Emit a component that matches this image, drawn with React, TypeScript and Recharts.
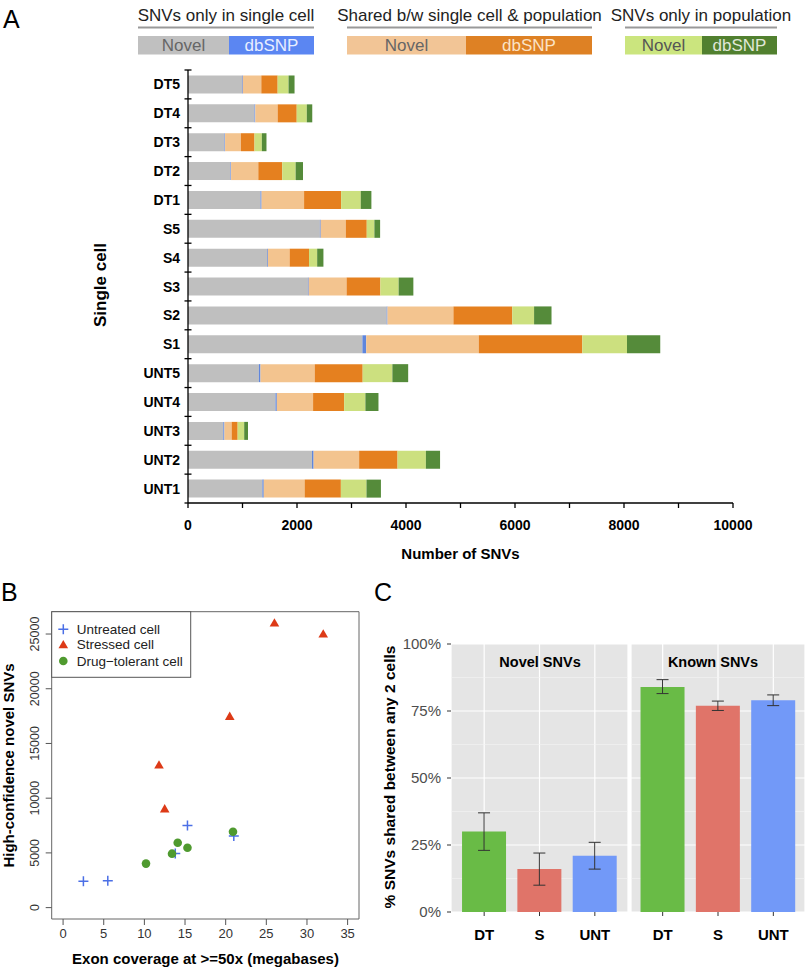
import React from "react";
import {
  BarChart,
  Bar,
  Cell,
  XAxis,
  YAxis,
  CartesianGrid,
  ReferenceArea,
  ErrorBar,
  ScatterChart,
  Scatter,
} from "recharts";

const FONT = '"Liberation Sans", Arial, Helvetica, sans-serif';

// ---------- Panel A: SNV counts per single cell ----------
const CELLS = ["DT5", "DT4", "DT3", "DT2", "DT1", "S5", "S4", "S3", "S2", "S1", "UNT5", "UNT4", "UNT3", "UNT2", "UNT1"];
const SC_NOVEL = [990, 1220, 670, 780, 1330, 2420, 1450, 2200, 3645, 3200, 1300, 1605, 648, 2275, 1365];
const SC_DBSNP = [15, 15, 10, 10, 20, 15, 15, 15, 15, 70, 30, 25, 20, 30, 25];
const SH_NOVEL = [340, 410, 290, 500, 780, 460, 400, 695, 1210, 2065, 995, 665, 133, 835, 750];
const SH_DBSNP = [300, 350, 250, 440, 680, 385, 355, 620, 1080, 1900, 880, 570, 110, 705, 665];
const POP_NOVEL = [200, 185, 135, 245, 360, 140, 150, 335, 400, 820, 545, 390, 120, 520, 470];
const POP_DBSNP = [110, 100, 85, 135, 195, 105, 115, 270, 320, 610, 290, 240, 70, 260, 265];
const SNV_TICKS = [0, 1000, 2000, 3000, 4000, 5000, 6000, 7000, 8000, 9000, 10000];

const SEGMENTS = [
  { key: "scNovel", color: "#BFBFBF" },
  { key: "scDbsnp", color: "#5F86DC" },
  { key: "shNovel", color: "#F3C48F" },
  { key: "shDbsnp", color: "#E5801F" },
  { key: "popNovel", color: "#CCE07F" },
  { key: "popDbsnp", color: "#558B3A" },
];

const LEGEND_TITLES = ["SNVs only in single cell", "Shared b/w single cell & population", "SNVs only in population"];
const LEGEND_PARTS = ["Novel", "dbSNP"];
const LEGEND_COLORS = [
  ["#C0C0C0", "#5B86F2"],
  ["#F2C596", "#DE8124"],
  ["#CBE57E", "#51802F"],
];
const LEGEND_TEXT_COLORS = [
  ["#666", "#E8EEFF"],
  ["#666", "#FBE3C6"],
  ["#555", "#E0E8D8"],
];

// ---------- Panel B: novel SNVs vs exon coverage ----------
const UNT_X = [2.5, 5.5, 13.8, 15.3, 21.0];
const UNT_Y = [2400, 2450, 4950, 7500, 6550];
const STR_X = [11.8, 12.5, 20.5, 26.0, 32.0];
const STR_Y = [13050, 9050, 17500, 26030, 25030];
const DT_X = [10.2, 13.4, 14.1, 15.3, 20.9];
const DT_Y = [4020, 4930, 5930, 5470, 6930];
const COV_TICKS = [0, 5, 10, 15, 20, 25, 30, 35];
const NSNV_TICKS = [0, 5000, 10000, 15000, 20000, 25000];
const B_NAMES = ["Untreated cell", "Stressed cell", "Drug\u2212tolerant cell"];
const BLUE = "#4B6FE6";
const RED = "#DD3A17";
const GREEN = "#4F9A2F";

// ---------- Panel C: % SNVs shared ----------
const GROUPS = ["DT", "S", "UNT"];
const GROUP_COLORS = ["#69BB46", "#E07469", "#7299F8"];
const NOVEL_MEAN = [0.3, 0.16, 0.21];
const NOVEL_LO = [0.23, 0.1, 0.16];
const NOVEL_HI = [0.37, 0.22, 0.26];
const KNOWN_MEAN = [0.84, 0.77, 0.79];
const KNOWN_LO = [0.815, 0.752, 0.77];
const KNOWN_HI = [0.867, 0.787, 0.81];
const PCT_TICKS = [0, 0.25, 0.5, 0.75, 1];
const PCT_MINOR = [0.125, 0.375, 0.625, 0.875];
const FACETS = ["Novel SNVs", "Known SNVs"];

const barData = CELLS.map((cell, i) => ({
  cell,
  scNovel: SC_NOVEL[i],
  scDbsnp: SC_DBSNP[i],
  shNovel: SH_NOVEL[i],
  shDbsnp: SH_DBSNP[i],
  popNovel: POP_NOVEL[i],
  popDbsnp: POP_DBSNP[i],
}));

const toPoints = (xs: number[], ys: number[]) => xs.map((x, i) => ({ x, y: ys[i] }));

const shareData = (mean: number[], lo: number[], hi: number[]) =>
  GROUPS.map((group, i) => ({ group, mean: mean[i], err: [mean[i] - lo[i], hi[i] - mean[i]] }));

const PlusMark = (p: any) => (
  <path d={`M${p.cx - 5},${p.cy}h10M${p.cx},${p.cy - 5}v10`} stroke={BLUE} strokeWidth={1.5} fill="none" />
);
const TriMark = (p: any) => (
  <polygon points={`${p.cx},${p.cy - 4.5} ${p.cx + 4.8},${p.cy + 3.8} ${p.cx - 4.8},${p.cy + 3.8}`} fill={RED} />
);
const DotMark = (p: any) => <circle cx={p.cx} cy={p.cy} r={4.3} fill={GREEN} />;

const RotTick = (p: any) => (
  <text
    x={p.x}
    y={p.y}
    transform={`rotate(-90 ${p.x} ${p.y})`}
    textAnchor="middle"
    fontSize={12.5}
    fill="#333"
  >
    {p.payload.value}
  </text>
);

// panel A plot geometry (chart height minus margins and x-axis height)
const A_MARGIN = { top: 70, right: 74, left: 128, bottom: 47 };
const A_HEIGHT = 580;
const A_XAXIS_H = 30;
const A_TICK_MARGIN = 8;
const A_BAND = (A_HEIGHT - A_MARGIN.top - A_MARGIN.bottom - A_XAXIS_H) / CELLS.length;

// category label plus short ticks crossing the axis at row boundaries
const CellTick = (p: any) => {
  const ax = p.x + A_TICK_MARGIN;
  const top = p.y - A_BAND / 2;
  const last = p.payload.index === CELLS.length - 1;
  return (
    <g>
      <text x={p.x} y={p.y} dy="0.36em" textAnchor="end" fontSize={14} fontWeight="bold" fill="#000">
        {p.payload.value}
      </text>
      <line x1={ax - 3.5} x2={ax + 3.5} y1={top} y2={top} stroke="#000" strokeWidth={1.3} />
      {last && <line x1={ax - 3.5} x2={ax} y1={top + A_BAND} y2={top + A_BAND} stroke="#000" strokeWidth={1.3} />}
    </g>
  );
};

function SharePanel({ data, width, left, showY, pad }: any) {
  return (
    <div style={{ position: "absolute", left, top: 630 }}>
      <BarChart
        width={width}
        height={330}
        data={data}
        margin={{ top: 14, right: 0, left: showY ? 21 : 0, bottom: 18 }}
        barCategoryGap="10%"
      >
        <CartesianGrid fill="#E5E5E5" stroke="#FFFFFF" strokeWidth={1.2} />
        <CartesianGrid vertical={false} horizontalValues={PCT_MINOR} stroke="#F3F3F3" strokeWidth={0.6} />
        <XAxis
          dataKey="group"
          padding={{ left: pad, right: pad }}
          axisLine={false}
          tickSize={4}
          tickMargin={13}
          tickLine={{ stroke: "#333" }}
          tick={{ fontSize: 15, fontWeight: "bold", fill: "#000" }}
          height={30}
        />
        <YAxis
          domain={[0, 1]}
          ticks={PCT_TICKS}
          hide={!showY}
          width={60}
          axisLine={false}
          tickSize={4}
          tickMargin={6}
          tickLine={{ stroke: "#333" }}
          tickFormatter={(v: number) => `${Math.round(v * 100)}%`}
          tick={{ fontSize: 15, fill: "#4D4D4D" }}
        />
        <Bar dataKey="mean" isAnimationActive={false}>
          {data.map((d: any, i: number) => (
            <Cell key={d.group} fill={GROUP_COLORS[i]} />
          ))}
          <ErrorBar dataKey="err" width={6} stroke="#333" strokeWidth={1} />
        </Bar>
      </BarChart>
    </div>
  );
}

export default function App() {
  const legendX = [
    [138, 229, 314],
    [347, 466, 592],
    [625, 702, 777],
  ];
  const bLegendY = [629.3, 644.5, 661];
  const bMarks = [
    <path key="p" d="M58.3,629.3h10M63.3,624.3v10" stroke={BLUE} strokeWidth={1.5} />,
    <polygon key="t" points="63.3,640 68.1,648.3 58.5,648.3" fill={RED} />,
    <circle key="c" cx={63.3} cy={661} r={4.3} fill={GREEN} />,
  ];

  return (
    <div style={{ position: "absolute", left: 0, top: 0, width: 807, height: 972, fontFamily: FONT, background: "#fff" }}>
      {/* Panel A */}
      <div style={{ position: "absolute", left: 0, top: 0 }}>
        <BarChart
          width={807}
          height={A_HEIGHT}
          data={barData}
          layout="vertical"
          margin={A_MARGIN}
          barCategoryGap="19%"
        >
          <XAxis
            type="number"
            domain={[0, 10000]}
            ticks={SNV_TICKS}
            tickFormatter={(v: number) => (v % 2000 === 0 ? String(v) : "")}
            axisLine={{ stroke: "#000", strokeWidth: 1.3 }}
            tickLine={{ stroke: "#000", strokeWidth: 1.3 }}
            tickSize={5}
            tickMargin={12}
            tick={{ fontSize: 14, fontWeight: "bold", fill: "#000" }}
            height={A_XAXIS_H}
          />
          <YAxis
            type="category"
            dataKey="cell"
            width={60}
            axisLine={{ stroke: "#000", strokeWidth: 1.3 }}
            tickLine={false}
            tickSize={0}
            tickMargin={A_TICK_MARGIN}
            tick={(p: any) => <CellTick {...p} />}
          />
          {SEGMENTS.map((s) => (
            <Bar key={s.key} dataKey={s.key} stackId="a" fill={s.color} isAnimationActive={false} />
          ))}
        </BarChart>
      </div>

      {/* Panel B */}
      <div style={{ position: "absolute", left: 0, top: 570 }}>
        <ScatterChart width={380} height={402} margin={{ top: 41.7, right: 21, bottom: 23, left: 21.7 }}>
          <XAxis
            type="number"
            dataKey="x"
            domain={[-1.4, 36.4]}
            ticks={COV_TICKS}
            axisLine={false}
            tickLine={{ stroke: "#555" }}
            tickSize={6}
            tickMargin={4}
            tick={{ fontSize: 13, fill: "#333" }}
            height={30}
          />
          <YAxis
            type="number"
            dataKey="y"
            domain={[-1040, 27040]}
            ticks={NSNV_TICKS}
            width={30}
            axisLine={false}
            tickLine={{ stroke: "#555" }}
            tickSize={6}
            tickMargin={7}
            tick={(p: any) => <RotTick {...p} />}
          />
          <ReferenceArea x1={-1.4} x2={36.4} y1={-1040} y2={27040} fill="none" stroke="#666" strokeWidth={1} />
          <Scatter name={B_NAMES[0]} data={toPoints(UNT_X, UNT_Y)} shape={PlusMark} isAnimationActive={false} />
          <Scatter name={B_NAMES[1]} data={toPoints(STR_X, STR_Y)} shape={TriMark} isAnimationActive={false} />
          <Scatter name={B_NAMES[2]} data={toPoints(DT_X, DT_Y)} shape={DotMark} isAnimationActive={false} />
        </ScatterChart>
      </div>

      {/* Panel C */}
      <SharePanel data={shareData(NOVEL_MEAN, NOVEL_LO, NOVEL_HI)} width={258} left={370} showY pad={5.5} />
      <SharePanel data={shareData(KNOWN_MEAN, KNOWN_LO, KNOWN_HI)} width={174} left={631} showY={false} pad={4} />

      {/* Titles, legends and panel letters */}
      <svg width={807} height={972} style={{ position: "absolute", left: 0, top: 0, pointerEvents: "none" }}>
        <text x={3} y={28} fontSize={25} fill="#000">A</text>
        <text x={1} y={601} fontSize={25} fill="#000">B</text>
        <text x={374} y={601} fontSize={25} fill="#000">C</text>

        {LEGEND_TITLES.map((t, g) => {
          const [x0, xm, x1] = legendX[g];
          return (
            <g key={t}>
              <text x={(x0 + x1) / 2} y={21} fontSize={17} fill="#222" textAnchor="middle">{t}</text>
              <line x1={x0} x2={x1} y1={27.5} y2={27.5} stroke="#999" strokeWidth={2} />
              <rect x={x0} y={36} width={xm - x0} height={18.5} fill={LEGEND_COLORS[g][0]} />
              <rect x={xm} y={36} width={x1 - xm} height={18.5} fill={LEGEND_COLORS[g][1]} />
              <text x={(x0 + xm) / 2} y={50.5} fontSize={17} fill={LEGEND_TEXT_COLORS[g][0]} textAnchor="middle">{LEGEND_PARTS[0]}</text>
              <text x={(xm + x1) / 2} y={50.5} fontSize={17} fill={LEGEND_TEXT_COLORS[g][1]} textAnchor="middle">{LEGEND_PARTS[1]}</text>
            </g>
          );
        })}

        <text transform="translate(105.5,285) rotate(-90)" fontSize={17} fontWeight="bold" textAnchor="middle">Single cell</text>
        <text x={460.5} y={559} fontSize={15} fontWeight="bold" textAnchor="middle">Number of SNVs</text>

        <rect x={51.7} y={611.7} width={139} height={65.6} fill="#fff" stroke="#555" strokeWidth={1} />
        {B_NAMES.map((n, i) => (
          <g key={n}>
            {bMarks[i]}
            <text x={76.7} y={bLegendY[i] + 4.8} fontSize={13.5} fill="#222">{n}</text>
          </g>
        ))}
        <text x={205.5} y={964} fontSize={15} fontWeight="bold" textAnchor="middle">Exon coverage at &gt;=50x (megabases)</text>
        <text transform="translate(13.5,765.5) rotate(-90)" fontSize={15} fontWeight="bold" textAnchor="middle">High-confidence novel SNVs</text>

        <text x={540} y={666.5} fontSize={14.5} fontWeight="bold" textAnchor="middle">{FACETS[0]}</text>
        <text x={713} y={666.5} fontSize={14.5} fontWeight="bold" textAnchor="middle">{FACETS[1]}</text>
        <text transform="translate(395,777) rotate(-90)" fontSize={15.5} fontWeight="bold" textAnchor="middle">% SNVs shared between any 2 cells</text>
      </svg>
    </div>
  );
}
